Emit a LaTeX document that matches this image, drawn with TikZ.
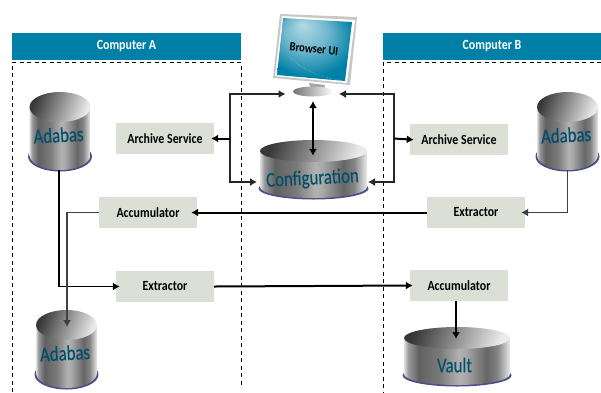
\documentclass[tikz,border=0pt]{standalone}
\usepackage{fontspec}
\usepackage{xcolor}
\setmainfont{Carlito}
\newfontfamily\boxfont[FakeStretch=0.85]{Carlito}
\newfontfamily\drumfont[FakeStretch=0.8,FakeBold=0.3]{Carlito}
\usetikzlibrary{arrows.meta,calc}

\definecolor{barteal}{HTML}{0080A6}
\definecolor{boxgrey}{HTML}{DBDFD5}
\definecolor{drumink}{HTML}{00506C}
\definecolor{drumfoot}{HTML}{4A4F88}

\pgfdeclarehorizontalshading{drumbody}{100bp}{
  color(0bp)=(black!12); color(25bp)=(black!12); color(27bp)=(black!40);
  color(32bp)=(black!62); color(42bp)=(black!52); color(51bp)=(black!30);
  color(54bp)=(black!34); color(64bp)=(black!60); color(69bp)=(black!48);
  color(75bp)=(black!8); color(100bp)=(black!8)}
\pgfdeclareradialshading{screenglow}{\pgfpoint{-8bp}{20bp}}{
  color(0bp)=(barteal!30!white); color(14bp)=(barteal!55!white);
  color(30bp)=(barteal); color(50bp)=(barteal)}

\tikzset{
  headbar/.style={fill=barteal, text=white, font=\boxfont\bfseries\fontsize{14}{15}\selectfont, minimum height=27pt, inner sep=0},
  srvbox/.style={fill=boxgrey, font=\boxfont\bfseries\fontsize{14}{15}\selectfont, minimum width=98pt, minimum height=31pt, inner sep=0},
  drumtext/.style={text=drumink, inner sep=0, font=\drumfont\fontsize{21}{23}\selectfont},
  zone/.style={draw, dashed, line width=0.9pt, dash pattern=on 4pt off 3.5pt},
  flow/.style={-{Latex[length=7pt,width=8pt]}, line width=1.3pt},
  flowfat/.style={-{Latex[length=7pt,width=8pt]}, line width=2pt}
}

% name, centre x, y of top ellipse, x radius, y radius, height
\newcommand{\drum}[6]{
  \fill[drumfoot] (#2,#3+#6+1.5) ellipse [x radius=#4+1.5pt, y radius=#5 pt];
  \shade[shading=drumbody] (#2-#4,#3) -- (#2-#4,#3+#6)
    arc [start angle=180, end angle=360, x radius=#4 pt, y radius=#5 pt] -- (#2+#4,#3) -- cycle;
  \shade[left color=black!78, right color=black!8, shading angle=70] (#2,#3) ellipse [x radius=#4 pt, y radius=#5 pt];
  \node[minimum width=2*#4 pt, minimum height=#6 pt+2*#5 pt, inner sep=0] (#1) at (#2,#3+#6/2) {};
}

\begin{document}
\begin{tikzpicture}[x=1pt,y=-1pt]
\useasboundingbox (0,0) rectangle (601,392);

% the two computers
\node[headbar, minimum width=229pt] (compA) at (126.5,46.5) {Computer A};
\node[headbar, minimum width=218pt] (compB) at (492,46.5) {Computer B};
\draw[zone] (12,392) |- (241,62) -- (241,388);
\draw[zone] (601,62) -| (383,392);

% monitor
\fill[black!22] (280,14) -- (357,17) -- (350,85) -- (273,78) -- cycle;
\fill[white] (282,16) -- (355,20) -- (347,83) -- (275,76) -- cycle;
\shade[shading=screenglow] (283,18) -- (352,22) -- (345,81) -- (277,75) -- cycle;
\draw[white, opacity=0.6, densely dotted, line width=0.4pt] (289,56) .. controls (303,72) and (325,78) .. (344,81);
\fill[black!35] (309,83) -- (325,85) -- (324,90) -- (311,89) -- cycle;
\shade[left color=black!55, right color=white] (313,91.5) ellipse [x radius=20pt, y radius=5pt];
\node[rotate=-6, font=\boxfont\bfseries\fontsize{12.5}{14}\selectfont, inner sep=0] (browserUI) at (314,49) {Browser UI};
\coordinate (standL) at (285.5,94);
\coordinate (standR) at (339,94);
\coordinate (standB) at (313,101);

% stores
\drum{adabasA}{60}{107}{30.5}{15}{48}
\node[drumtext, rotate=3] (adabasAtext) at (58.5,135) {Adabas};
\drum{adabasB}{567.5}{107}{30.5}{15}{48}
\node[drumtext, rotate=3] (adabasBtext) at (566,135) {Adabas};
\drum{adabasC}{66.5}{325}{30.5}{15}{48}
\node[drumtext, rotate=3] (adabasCtext) at (65,353) {Adabas};
\drum{config}{313.5}{151}{53.5}{11}{36}
\node[drumtext, rotate=3] (configtext) at (312.5,179) {Configuration};
\drum{vault}{457}{338}{53}{11}{36}
\node[drumtext] (vaulttext) at (454.5,365) {Vault};

% services
\node[srvbox] (archA) at (165,138.5) {Archive Service};
\node[srvbox] (archB) at (459,139.5) {Archive Service};
\node[srvbox] (accuA) at (148,212.5) {Accumulator};
\node[srvbox] (extrA) at (165,286.5) {Extractor};
\node[srvbox] (extrB) at (476,212.5) {Extractor};
\node[srvbox] (accuB) at (459,285.5) {Accumulator};

% junctions
\coordinate (forkA) at (230,138.5);
\coordinate (forkB) at (394,138.5);
\coordinate (configL) at (257,182);
\coordinate (configR) at (368,182);

\draw[flow, black!85] (forkA) |- (standL);
\draw[flow, black!85] (forkA) |- (configL);
\draw[flowfat, shorten >=-3pt] (forkA) -- (archA.east);
\draw[flow, black!85] (forkB) |- (standR);
\draw[flow, black!85] (forkB) |- (configR);
\draw[flowfat, shorten >=-4pt] (forkB) -- (archB.west);
\draw[{Latex[length=7pt,width=8pt]}-{Latex[length=7pt,width=8pt]}, line width=2pt] (standB) -- ($(config.north)+(-0.5,16)$);

\draw[flow] (59,170) |- ($(extrA.west)+(4,0)$);
\draw[flow, black!75] (accuA.west) -| (67,327);
\draw[flowfat, shorten >=-6pt] (extrB.west) -- (accuA.east);
\draw[flowfat, shorten >=-3pt] (extrA.east) -- (accuB.west);
\draw[flowfat] (456,301) -- (456,339);
\draw[flow, black!75, shorten >=-4pt] (adabasB.south) |- (extrB.east);
\end{tikzpicture}
\end{document}
